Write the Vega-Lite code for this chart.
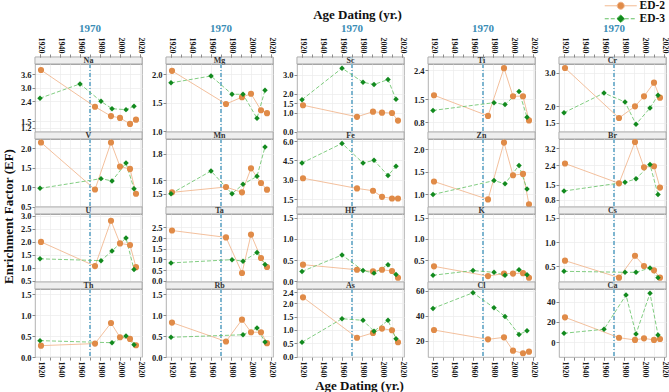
{
  "$schema": "https://vega.github.io/schema/vega-lite/v6.json",
  "padding": {"left": 1, "top": 0, "right": 0, "bottom": 0},
  "data": {"values": [
    {"element":"Na","series":"ED-2","year":1921,"ef":3.79},{"element":"Na","series":"ED-2","year":1975,"ef":2.15},{"element":"Na","series":"ED-2","year":1991,"ef":1.73},{"element":"Na","series":"ED-2","year":2000,"ef":1.65},{"element":"Na","series":"ED-2","year":2010,"ef":1.38},{"element":"Na","series":"ED-2","year":2016,"ef":1.57},
    {"element":"Na","series":"ED-3","year":1920,"ef":2.53},{"element":"Na","series":"ED-3","year":1960,"ef":3.17},{"element":"Na","series":"ED-3","year":1981,"ef":2.39},{"element":"Na","series":"ED-3","year":1992,"ef":2.06},{"element":"Na","series":"ED-3","year":2006,"ef":2.02},{"element":"Na","series":"ED-3","year":2014,"ef":2.17},
    {"element":"Mg","series":"ED-2","year":1921,"ef":2.06},{"element":"Mg","series":"ED-2","year":1975,"ef":1.48},{"element":"Mg","series":"ED-2","year":1991,"ef":1.60},{"element":"Mg","series":"ED-2","year":2000,"ef":1.66},{"element":"Mg","series":"ED-2","year":2010,"ef":1.37},{"element":"Mg","series":"ED-2","year":2016,"ef":1.32},
    {"element":"Mg","series":"ED-3","year":1920,"ef":1.85},{"element":"Mg","series":"ED-3","year":1960,"ef":1.97},{"element":"Mg","series":"ED-3","year":1981,"ef":1.65},{"element":"Mg","series":"ED-3","year":1992,"ef":1.65},{"element":"Mg","series":"ED-3","year":2006,"ef":1.23},{"element":"Mg","series":"ED-3","year":2014,"ef":1.72},
    {"element":"Sc","series":"ED-2","year":1921,"ef":1.39},{"element":"Sc","series":"ED-2","year":1975,"ef":0.78},{"element":"Sc","series":"ED-2","year":1991,"ef":1.05},{"element":"Sc","series":"ED-2","year":2000,"ef":1.00},{"element":"Sc","series":"ED-2","year":2010,"ef":0.98},{"element":"Sc","series":"ED-2","year":2016,"ef":0.58},
    {"element":"Sc","series":"ED-3","year":1920,"ef":1.68},{"element":"Sc","series":"ED-3","year":1960,"ef":3.34},{"element":"Sc","series":"ED-3","year":1981,"ef":2.60},{"element":"Sc","series":"ED-3","year":1992,"ef":2.48},{"element":"Sc","series":"ED-3","year":2006,"ef":2.74},{"element":"Sc","series":"ED-3","year":2014,"ef":1.70},
    {"element":"Ti","series":"ED-2","year":1921,"ef":1.63},{"element":"Ti","series":"ED-2","year":1975,"ef":0.99},{"element":"Ti","series":"ED-2","year":1991,"ef":2.47},{"element":"Ti","series":"ED-2","year":2000,"ef":1.60},{"element":"Ti","series":"ED-2","year":2010,"ef":1.60},{"element":"Ti","series":"ED-2","year":2016,"ef":0.85},
    {"element":"Ti","series":"ED-3","year":1920,"ef":1.16},{"element":"Ti","series":"ED-3","year":1981,"ef":1.40},{"element":"Ti","series":"ED-3","year":1992,"ef":1.34},{"element":"Ti","series":"ED-3","year":2006,"ef":1.75},{"element":"Ti","series":"ED-3","year":2014,"ef":0.95},
    {"element":"Cr","series":"ED-2","year":1921,"ef":3.14},{"element":"Cr","series":"ED-2","year":1975,"ef":1.64},{"element":"Cr","series":"ED-2","year":1991,"ef":1.99},{"element":"Cr","series":"ED-2","year":2000,"ef":2.29},{"element":"Cr","series":"ED-2","year":2010,"ef":2.70},{"element":"Cr","series":"ED-2","year":2016,"ef":2.25},
    {"element":"Cr","series":"ED-3","year":1920,"ef":1.80},{"element":"Cr","series":"ED-3","year":1960,"ef":2.39},{"element":"Cr","series":"ED-3","year":1981,"ef":2.12},{"element":"Cr","series":"ED-3","year":1992,"ef":1.45},{"element":"Cr","series":"ED-3","year":2006,"ef":1.94},{"element":"Cr","series":"ED-3","year":2014,"ef":2.32},
    {"element":"V","series":"ED-2","year":1921,"ef":2.15},{"element":"V","series":"ED-2","year":1975,"ef":0.94},{"element":"V","series":"ED-2","year":1991,"ef":2.15},{"element":"V","series":"ED-2","year":2000,"ef":1.53},{"element":"V","series":"ED-2","year":2010,"ef":1.47},{"element":"V","series":"ED-2","year":2016,"ef":0.83},
    {"element":"V","series":"ED-3","year":1920,"ef":0.97},{"element":"V","series":"ED-3","year":1981,"ef":1.22},{"element":"V","series":"ED-3","year":1992,"ef":1.16},{"element":"V","series":"ED-3","year":2006,"ef":1.62},{"element":"V","series":"ED-3","year":2014,"ef":0.96},
    {"element":"Mn","series":"ED-2","year":1921,"ef":1.51},{"element":"Mn","series":"ED-2","year":1975,"ef":1.55},{"element":"Mn","series":"ED-2","year":1991,"ef":1.51},{"element":"Mn","series":"ED-2","year":2000,"ef":1.69},{"element":"Mn","series":"ED-2","year":2010,"ef":1.58},{"element":"Mn","series":"ED-2","year":2016,"ef":1.53},
    {"element":"Mn","series":"ED-3","year":1920,"ef":1.50},{"element":"Mn","series":"ED-3","year":1960,"ef":1.67},{"element":"Mn","series":"ED-3","year":1981,"ef":1.50},{"element":"Mn","series":"ED-3","year":1992,"ef":1.57},{"element":"Mn","series":"ED-3","year":2006,"ef":1.63},{"element":"Mn","series":"ED-3","year":2014,"ef":1.85},
    {"element":"Fe","series":"ED-2","year":1921,"ef":3.12},{"element":"Fe","series":"ED-2","year":1975,"ef":2.33},{"element":"Fe","series":"ED-2","year":1991,"ef":2.15},{"element":"Fe","series":"ED-2","year":2000,"ef":1.68},{"element":"Fe","series":"ED-2","year":2010,"ef":1.55},{"element":"Fe","series":"ED-2","year":2016,"ef":1.55},
    {"element":"Fe","series":"ED-3","year":1920,"ef":4.30},{"element":"Fe","series":"ED-3","year":1960,"ef":5.82},{"element":"Fe","series":"ED-3","year":1981,"ef":4.30},{"element":"Fe","series":"ED-3","year":1992,"ef":4.51},{"element":"Fe","series":"ED-3","year":2006,"ef":3.33},{"element":"Fe","series":"ED-3","year":2014,"ef":4.04},
    {"element":"Zn","series":"ED-2","year":1921,"ef":1.28},{"element":"Zn","series":"ED-2","year":1975,"ef":0.88},{"element":"Zn","series":"ED-2","year":1991,"ef":2.15},{"element":"Zn","series":"ED-2","year":2000,"ef":1.42},{"element":"Zn","series":"ED-2","year":2010,"ef":1.45},{"element":"Zn","series":"ED-2","year":2016,"ef":0.77},
    {"element":"Zn","series":"ED-3","year":1920,"ef":0.99},{"element":"Zn","series":"ED-3","year":1981,"ef":1.30},{"element":"Zn","series":"ED-3","year":1992,"ef":1.23},{"element":"Zn","series":"ED-3","year":2006,"ef":1.64},{"element":"Zn","series":"ED-3","year":2014,"ef":1.11},
    {"element":"Br","series":"ED-2","year":1921,"ef":2.49},{"element":"Br","series":"ED-2","year":1975,"ef":1.56},{"element":"Br","series":"ED-2","year":1991,"ef":3.50},{"element":"Br","series":"ED-2","year":2000,"ef":2.31},{"element":"Br","series":"ED-2","year":2010,"ef":2.36},{"element":"Br","series":"ED-2","year":2016,"ef":1.36},
    {"element":"Br","series":"ED-3","year":1920,"ef":1.20},{"element":"Br","series":"ED-3","year":1981,"ef":1.61},{"element":"Br","series":"ED-3","year":1992,"ef":1.77},{"element":"Br","series":"ED-3","year":2006,"ef":2.44},{"element":"Br","series":"ED-3","year":2014,"ef":1.04},
    {"element":"U","series":"ED-2","year":1921,"ef":2.00},{"element":"U","series":"ED-2","year":1975,"ef":1.07},{"element":"U","series":"ED-2","year":1991,"ef":2.81},{"element":"U","series":"ED-2","year":2000,"ef":1.94},{"element":"U","series":"ED-2","year":2010,"ef":1.88},{"element":"U","series":"ED-2","year":2016,"ef":1.03},
    {"element":"U","series":"ED-3","year":1920,"ef":1.35},{"element":"U","series":"ED-3","year":1981,"ef":1.28},{"element":"U","series":"ED-3","year":1992,"ef":1.65},{"element":"U","series":"ED-3","year":2006,"ef":2.15},{"element":"U","series":"ED-3","year":2014,"ef":0.94},
    {"element":"Ta","series":"ED-2","year":1921,"ef":2.35},{"element":"Ta","series":"ED-2","year":1975,"ef":2.03},{"element":"Ta","series":"ED-2","year":1991,"ef":0.37},{"element":"Ta","series":"ED-2","year":2000,"ef":2.16},{"element":"Ta","series":"ED-2","year":2010,"ef":1.07},{"element":"Ta","series":"ED-2","year":2016,"ef":0.65},
    {"element":"Ta","series":"ED-3","year":1920,"ef":0.84},{"element":"Ta","series":"ED-3","year":1981,"ef":0.99},{"element":"Ta","series":"ED-3","year":1992,"ef":0.92},{"element":"Ta","series":"ED-3","year":2006,"ef":1.32},{"element":"Ta","series":"ED-3","year":2014,"ef":0.77},
    {"element":"HF","series":"ED-2","year":1921,"ef":0.39},{"element":"HF","series":"ED-2","year":1975,"ef":0.27},{"element":"HF","series":"ED-2","year":1991,"ef":0.23},{"element":"HF","series":"ED-2","year":2000,"ef":0.27},{"element":"HF","series":"ED-2","year":2010,"ef":0.24},{"element":"HF","series":"ED-2","year":2016,"ef":0.08},
    {"element":"HF","series":"ED-3","year":1920,"ef":0.23},{"element":"HF","series":"ED-3","year":1960,"ef":0.62},{"element":"HF","series":"ED-3","year":1981,"ef":0.25},{"element":"HF","series":"ED-3","year":1992,"ef":0.19},{"element":"HF","series":"ED-3","year":2006,"ef":0.39},{"element":"HF","series":"ED-3","year":2014,"ef":0.16},
    {"element":"K","series":"ED-2","year":1921,"ef":0.35},{"element":"K","series":"ED-2","year":1975,"ef":0.12},{"element":"K","series":"ED-2","year":1991,"ef":0.18},{"element":"K","series":"ED-2","year":2000,"ef":0.18},{"element":"K","series":"ED-2","year":2010,"ef":0.19},{"element":"K","series":"ED-2","year":2016,"ef":0.08},
    {"element":"K","series":"ED-3","year":1920,"ef":0.14},{"element":"K","series":"ED-3","year":1960,"ef":0.25},{"element":"K","series":"ED-3","year":1981,"ef":0.21},{"element":"K","series":"ED-3","year":1992,"ef":0.14},{"element":"K","series":"ED-3","year":2006,"ef":0.27},{"element":"K","series":"ED-3","year":2014,"ef":0.15},
    {"element":"Cs","series":"ED-2","year":1921,"ef":0.62},{"element":"Cs","series":"ED-2","year":1975,"ef":0.27},{"element":"Cs","series":"ED-2","year":1991,"ef":0.72},{"element":"Cs","series":"ED-2","year":2000,"ef":0.51},{"element":"Cs","series":"ED-2","year":2010,"ef":0.42},{"element":"Cs","series":"ED-2","year":2016,"ef":0.27},
    {"element":"Cs","series":"ED-3","year":1920,"ef":0.40},{"element":"Cs","series":"ED-3","year":1981,"ef":0.38},{"element":"Cs","series":"ED-3","year":1992,"ef":0.38},{"element":"Cs","series":"ED-3","year":2006,"ef":0.47},{"element":"Cs","series":"ED-3","year":2014,"ef":0.27},
    {"element":"Th","series":"ED-2","year":1921,"ef":0.27},{"element":"Th","series":"ED-2","year":1975,"ef":0.32},{"element":"Th","series":"ED-2","year":1991,"ef":0.81},{"element":"Th","series":"ED-2","year":2000,"ef":0.47},{"element":"Th","series":"ED-2","year":2010,"ef":0.43},{"element":"Th","series":"ED-2","year":2016,"ef":0.28},
    {"element":"Th","series":"ED-3","year":1920,"ef":0.39},{"element":"Th","series":"ED-3","year":1992,"ef":0.34},{"element":"Th","series":"ED-3","year":2006,"ef":0.50},{"element":"Th","series":"ED-3","year":2014,"ef":0.29},
    {"element":"Rb","series":"ED-2","year":1921,"ef":0.82},{"element":"Rb","series":"ED-2","year":1975,"ef":0.37},{"element":"Rb","series":"ED-2","year":1991,"ef":0.89},{"element":"Rb","series":"ED-2","year":2000,"ef":0.59},{"element":"Rb","series":"ED-2","year":2010,"ef":0.59},{"element":"Rb","series":"ED-2","year":2016,"ef":0.33},
    {"element":"Rb","series":"ED-3","year":1920,"ef":0.47},{"element":"Rb","series":"ED-3","year":1992,"ef":0.53},{"element":"Rb","series":"ED-3","year":2006,"ef":0.69},{"element":"Rb","series":"ED-3","year":2014,"ef":0.36},
    {"element":"As","series":"ED-2","year":1921,"ef":2.22},{"element":"As","series":"ED-2","year":1975,"ef":0.71},{"element":"As","series":"ED-2","year":1991,"ef":0.89},{"element":"As","series":"ED-2","year":2000,"ef":1.05},{"element":"As","series":"ED-2","year":2010,"ef":0.99},{"element":"As","series":"ED-2","year":2016,"ef":0.54},
    {"element":"As","series":"ED-3","year":1920,"ef":0.54},{"element":"As","series":"ED-3","year":1960,"ef":1.42},{"element":"As","series":"ED-3","year":1981,"ef":1.36},{"element":"As","series":"ED-3","year":1992,"ef":0.95},{"element":"As","series":"ED-3","year":2006,"ef":1.36},{"element":"As","series":"ED-3","year":2014,"ef":0.67},
    {"element":"Cl","series":"ED-2","year":1921,"ef":28.6},{"element":"Cl","series":"ED-2","year":1975,"ef":21.1},{"element":"Cl","series":"ED-2","year":1991,"ef":22.7},{"element":"Cl","series":"ED-2","year":2000,"ef":12.0},{"element":"Cl","series":"ED-2","year":2010,"ef":9.9},{"element":"Cl","series":"ED-2","year":2016,"ef":11.2},
    {"element":"Cl","series":"ED-3","year":1920,"ef":46.0},{"element":"Cl","series":"ED-3","year":1960,"ef":58.6},{"element":"Cl","series":"ED-3","year":1981,"ef":46.5},{"element":"Cl","series":"ED-3","year":1992,"ef":39.5},{"element":"Cl","series":"ED-3","year":2006,"ef":25.0},{"element":"Cl","series":"ED-3","year":2014,"ef":28.0},
    {"element":"Ca","series":"ED-2","year":1921,"ef":24.6},{"element":"Ca","series":"ED-2","year":1975,"ef":4.5},{"element":"Ca","series":"ED-2","year":1991,"ef":2.3},{"element":"Ca","series":"ED-2","year":2000,"ef":3.9},{"element":"Ca","series":"ED-2","year":2010,"ef":2.3},{"element":"Ca","series":"ED-2","year":2016,"ef":3.2},
    {"element":"Ca","series":"ED-3","year":1920,"ef":8.9},{"element":"Ca","series":"ED-3","year":1960,"ef":12.8},{"element":"Ca","series":"ED-3","year":1982,"ef":46.6},{"element":"Ca","series":"ED-3","year":1992,"ef":8.2},{"element":"Ca","series":"ED-3","year":2006,"ef":48.3},{"element":"Ca","series":"ED-3","year":2014,"ef":7.2}
  ]},
  "columns": 5,
  "spacing": {"row": 0, "column": 24},
  "bounds": "flush",
  "concat": [
    {"width":107,"height":7,"data":{"values":[{"element":"Na"}]},"layer":[
      {"mark":{"type":"rect","fill":"#eeeeee","stroke":"#a6a6a6","strokeWidth":0.8},"encoding":{}},
      {"mark":{"type":"rule","color":"#7db5cf","strokeWidth":0.8,"strokeDash":[4,2,1,2]},"encoding":{"x":{"datum":1970,"type":"quantitative","scale":{"domain":[1915,2022],"nice":false,"zero":false},"axis":null}}},
      {"mark":{"type":"text","text":"1970","dy":-32,"fontSize":11,"fontWeight":"bold","font":"Liberation Serif","color":"#3b8cb5","baseline":"middle"},"encoding":{"x":{"datum":1970,"type":"quantitative","axis":null}}},
      {"mark":{"type":"text","fontSize":8,"fontWeight":"bold","color":"#333333","font":"Liberation Serif","baseline":"middle"},"encoding":{"text":{"field":"element","type":"nominal"}}}]},
    {"width":107,"height":7,"data":{"values":[{"element":"Mg"}]},"layer":[
      {"mark":{"type":"rect","fill":"#eeeeee","stroke":"#a6a6a6","strokeWidth":0.8},"encoding":{}},
      {"mark":{"type":"rule","color":"#7db5cf","strokeWidth":0.8,"strokeDash":[4,2,1,2]},"encoding":{"x":{"datum":1970,"type":"quantitative","scale":{"domain":[1915,2022],"nice":false,"zero":false},"axis":null}}},
      {"mark":{"type":"text","text":"1970","dy":-32,"fontSize":11,"fontWeight":"bold","font":"Liberation Serif","color":"#3b8cb5","baseline":"middle"},"encoding":{"x":{"datum":1970,"type":"quantitative","axis":null}}},
      {"mark":{"type":"text","fontSize":8,"fontWeight":"bold","color":"#333333","font":"Liberation Serif","baseline":"middle"},"encoding":{"text":{"field":"element","type":"nominal"}}}]},
    {"width":107,"height":7,"data":{"values":[{"element":"Sc"}]},"layer":[
      {"mark":{"type":"rect","fill":"#eeeeee","stroke":"#a6a6a6","strokeWidth":0.8},"encoding":{}},
      {"mark":{"type":"rule","color":"#7db5cf","strokeWidth":0.8,"strokeDash":[4,2,1,2]},"encoding":{"x":{"datum":1970,"type":"quantitative","scale":{"domain":[1915,2022],"nice":false,"zero":false},"axis":null}}},
      {"mark":{"type":"text","text":"1970","dy":-32,"fontSize":11,"fontWeight":"bold","font":"Liberation Serif","color":"#3b8cb5","baseline":"middle"},"encoding":{"x":{"datum":1970,"type":"quantitative","axis":null}}},
      {"mark":{"type":"text","fontSize":8,"fontWeight":"bold","color":"#333333","font":"Liberation Serif","baseline":"middle"},"encoding":{"text":{"field":"element","type":"nominal"}}}]},
    {"width":107,"height":7,"data":{"values":[{"element":"Ti"}]},"layer":[
      {"mark":{"type":"rect","fill":"#eeeeee","stroke":"#a6a6a6","strokeWidth":0.8},"encoding":{}},
      {"mark":{"type":"rule","color":"#7db5cf","strokeWidth":0.8,"strokeDash":[4,2,1,2]},"encoding":{"x":{"datum":1970,"type":"quantitative","scale":{"domain":[1915,2022],"nice":false,"zero":false},"axis":null}}},
      {"mark":{"type":"text","text":"1970","dy":-32,"fontSize":11,"fontWeight":"bold","font":"Liberation Serif","color":"#3b8cb5","baseline":"middle"},"encoding":{"x":{"datum":1970,"type":"quantitative","axis":null}}},
      {"mark":{"type":"text","fontSize":8,"fontWeight":"bold","color":"#333333","font":"Liberation Serif","baseline":"middle"},"encoding":{"text":{"field":"element","type":"nominal"}}}]},
    {"width":107,"height":7,"data":{"values":[{"element":"Cr"}]},"layer":[
      {"mark":{"type":"rect","fill":"#eeeeee","stroke":"#a6a6a6","strokeWidth":0.8},"encoding":{}},
      {"mark":{"type":"rule","color":"#7db5cf","strokeWidth":0.8,"strokeDash":[4,2,1,2]},"encoding":{"x":{"datum":1970,"type":"quantitative","scale":{"domain":[1915,2022],"nice":false,"zero":false},"axis":null}}},
      {"mark":{"type":"text","text":"1970","dy":-32,"fontSize":11,"fontWeight":"bold","font":"Liberation Serif","color":"#3b8cb5","baseline":"middle"},"encoding":{"x":{"datum":1970,"type":"quantitative","axis":null}}},
      {"mark":{"type":"text","fontSize":8,"fontWeight":"bold","color":"#333333","font":"Liberation Serif","baseline":"middle"},"encoding":{"text":{"field":"element","type":"nominal"}}}]},

    {"width":107,"height":68,"transform":[{"filter":{"field":"element","equal":"Na"}}],"resolve":{"axis":{"x":"independent","y":"independent"}},"layer":[
      {"mark":{"type":"rule","color":"#7db5cf","strokeWidth":0.8,"strokeDash":[4,2,1,2]},"encoding":{"x":{"datum":1970,"type":"quantitative","axis":{"orient":"top","offset":7,"values":[1920,1930,1940,1950,1960,1970,1980,1990,2000,2010,2020],"labels":false,"ticks":true,"grid":false,"domain":false,"title":null}}}},
      {"transform":[{"filter":{"field":"series","equal":"ED-2"}}],"mark":{"type":"line","color":"#f0b084","strokeWidth":0.8},"encoding":{"x":{"field":"year","type":"quantitative","scale":{"domain":[1915,2022],"nice":false,"zero":false},"axis":{"orient":"bottom","values":[1920,1930,1940,1950,1960,1970,1980,1990,2000,2010,2020],"grid":true,"labels":false,"ticks":false,"domain":false,"title":null}},"y":{"field":"ef","type":"quantitative","scale":{"domain":[1.02,4.06],"nice":false,"zero":false},"axis":{"orient":"left","values":[1.2,2.4],"format":".1f","grid":true,"title":null}}}},
      {"transform":[{"filter":{"field":"series","equal":"ED-3"}}],"mark":{"type":"line","color":"#62c062","strokeWidth":0.8,"strokeDash":[4,2]},"encoding":{"x":{"field":"year","type":"quantitative","axis":{"orient":"top","offset":7,"values":[1920,1940],"format":"d","labelAngle":90,"labelAlign":"right","labelBaseline":"middle","grid":false,"domain":false,"title":null}},"y":{"field":"ef","type":"quantitative","axis":{"orient":"left","values":[1.5,3.0],"format":".1f","grid":true,"title":null}}}},
      {"transform":[{"filter":{"field":"series","equal":"ED-2"}}],"mark":{"type":"point","filled":true,"opacity":1,"color":"#e08b48","shape":"circle","size":38},"encoding":{"x":{"field":"year","type":"quantitative","axis":{"orient":"top","offset":7,"values":[1960,1980],"format":"d","labelAngle":90,"labelAlign":"right","labelBaseline":"middle","grid":false,"domain":false,"title":null}},"y":{"field":"ef","type":"quantitative","axis":{"orient":"left","values":[3.6],"format":".1f","grid":true,"title":null}}}},
      {"transform":[{"filter":{"field":"series","equal":"ED-3"}}],"mark":{"type":"point","filled":true,"opacity":1,"color":"#128a1e","shape":"diamond","size":30},"encoding":{"x":{"field":"year","type":"quantitative","axis":{"orient":"top","offset":7,"values":[2000,2020],"format":"d","labelAngle":90,"labelAlign":"right","labelBaseline":"middle","grid":false,"domain":false,"title":null}},"y":{"field":"ef","type":"quantitative","axis":null}}},
      {"transform":[{"filter":"datum.year < 0"}],"mark":{"type":"point","filled":true,"opacity":1,"strokeWidth":1},"encoding":{
        "color":{"field":"series","type":"nominal","scale":{"domain":["ED-2","ED-3"],"range":["#e08b48","#128a1e"]},"legend":{"title":null,"orient":"none","legendX":580,"legendY":-57,"padding":0,"rowPadding":0,"symbolSize":100,"symbolStrokeWidth":1,"labelFont":"Liberation Serif","labelFontWeight":"bold","labelFontSize":11.5,"labelColor":"#111111","labelOffset":13}},
        "shape":{"field":"series","type":"nominal","scale":{"domain":["ED-2","ED-3"],"range":["M-3.2,0H-0.7M0.7,0H3.2M0.7,0A0.7,0.7,0,1,1,-0.7,0A0.7,0.7,0,1,1,0.7,0Z","M-3.2,0H-0.8M0.8,0H3.2M0,-0.8L0.8,0L0,0.8L-0.8,0Z"]},"legend":{"title":null,"orient":"none","legendX":580,"legendY":-57,"padding":0,"rowPadding":0,"symbolSize":100,"symbolStrokeWidth":1,"labelFont":"Liberation Serif","labelFontWeight":"bold","labelFontSize":11.5,"labelColor":"#111111","labelOffset":13}},
        "stroke":{"field":"series","type":"nominal","scale":{"domain":["ED-2","ED-3"],"range":["#f0b084","#62c062"]},"legend":{"title":null,"orient":"none","legendX":580,"legendY":-57,"padding":0,"rowPadding":0,"symbolSize":100,"symbolStrokeWidth":1,"labelFont":"Liberation Serif","labelFontWeight":"bold","labelFontSize":11.5,"labelColor":"#111111","labelOffset":13}},
        "strokeDash":{"field":"series","type":"nominal","scale":{"domain":["ED-2","ED-3"],"range":[[1,0],[4,2]]},"legend":{"title":null,"orient":"none","legendX":580,"legendY":-57,"padding":0,"rowPadding":0,"symbolSize":100,"symbolStrokeWidth":1,"labelFont":"Liberation Serif","labelFontWeight":"bold","labelFontSize":11.5,"labelColor":"#111111","labelOffset":13}}}}]},
    {"width":107,"height":68,"transform":[{"filter":{"field":"element","equal":"Mg"}}],"resolve":{"axis":{"x":"independent","y":"independent"}},"layer":[
      {"mark":{"type":"rule","color":"#7db5cf","strokeWidth":0.8,"strokeDash":[4,2,1,2]},"encoding":{"x":{"datum":1970,"type":"quantitative","axis":{"orient":"top","offset":7,"values":[1920,1930,1940,1950,1960,1970,1980,1990,2000,2010,2020],"labels":false,"ticks":true,"grid":false,"domain":false,"title":null}}}},
      {"transform":[{"filter":{"field":"series","equal":"ED-2"}}],"mark":{"type":"line","color":"#f0b084","strokeWidth":0.8},"encoding":{"x":{"field":"year","type":"quantitative","scale":{"domain":[1915,2022],"nice":false,"zero":false},"axis":{"orient":"bottom","values":[1920,1930,1940,1950,1960,1970,1980,1990,2000,2010,2020],"grid":true,"labels":false,"ticks":false,"domain":false,"title":null}},"y":{"field":"ef","type":"quantitative","scale":{"domain":[0.99,2.18],"nice":false,"zero":false},"axis":{"orient":"left","values":[1.0,2.0],"format":".1f","grid":true,"title":null}}}},
      {"transform":[{"filter":{"field":"series","equal":"ED-3"}}],"mark":{"type":"line","color":"#62c062","strokeWidth":0.8,"strokeDash":[4,2]},"encoding":{"x":{"field":"year","type":"quantitative","axis":{"orient":"top","offset":7,"values":[1920,1940],"format":"d","labelAngle":90,"labelAlign":"right","labelBaseline":"middle","grid":false,"domain":false,"title":null}},"y":{"field":"ef","type":"quantitative","axis":{"orient":"left","values":[1.5],"format":".1f","grid":true,"title":null}}}},
      {"transform":[{"filter":{"field":"series","equal":"ED-2"}}],"mark":{"type":"point","filled":true,"opacity":1,"color":"#e08b48","shape":"circle","size":38},"encoding":{"x":{"field":"year","type":"quantitative","axis":{"orient":"top","offset":7,"values":[1960,1980],"format":"d","labelAngle":90,"labelAlign":"right","labelBaseline":"middle","grid":false,"domain":false,"title":null}},"y":{"field":"ef","type":"quantitative","axis":null}}},
      {"transform":[{"filter":{"field":"series","equal":"ED-3"}}],"mark":{"type":"point","filled":true,"opacity":1,"color":"#128a1e","shape":"diamond","size":30},"encoding":{"x":{"field":"year","type":"quantitative","axis":{"orient":"top","offset":7,"values":[2000,2020],"format":"d","labelAngle":90,"labelAlign":"right","labelBaseline":"middle","grid":false,"domain":false,"title":null}},"y":{"field":"ef","type":"quantitative","axis":null}}}]},
    {"width":107,"height":68,"transform":[{"filter":{"field":"element","equal":"Sc"}}],"resolve":{"axis":{"x":"independent","y":"independent"}},"layer":[
      {"mark":{"type":"rule","color":"#7db5cf","strokeWidth":0.8,"strokeDash":[4,2,1,2]},"encoding":{"x":{"datum":1970,"type":"quantitative","axis":{"orient":"top","offset":7,"values":[1920,1930,1940,1950,1960,1970,1980,1990,2000,2010,2020],"labels":false,"ticks":true,"grid":false,"domain":false,"title":"Age Dating (yr.)","titleFontSize":13,"titleX":60,"titleY":-43,"titleAlign":"center","titleBaseline":"middle","titleAngle":0}}}},
      {"transform":[{"filter":{"field":"series","equal":"ED-2"}}],"mark":{"type":"line","color":"#f0b084","strokeWidth":0.8},"encoding":{"x":{"field":"year","type":"quantitative","scale":{"domain":[1915,2022],"nice":false,"zero":false},"axis":{"orient":"bottom","values":[1920,1930,1940,1950,1960,1970,1980,1990,2000,2010,2020],"grid":true,"labels":false,"ticks":false,"domain":false,"title":null}},"y":{"field":"ef","type":"quantitative","scale":{"domain":[-0.02,3.56],"nice":false,"zero":false},"axis":{"orient":"left","values":[0.0,1.5],"format":".1f","grid":true,"title":null}}}},
      {"transform":[{"filter":{"field":"series","equal":"ED-3"}}],"mark":{"type":"line","color":"#62c062","strokeWidth":0.8,"strokeDash":[4,2]},"encoding":{"x":{"field":"year","type":"quantitative","axis":{"orient":"top","offset":7,"values":[1920,1940],"format":"d","labelAngle":90,"labelAlign":"right","labelBaseline":"middle","grid":false,"domain":false,"title":null}},"y":{"field":"ef","type":"quantitative","axis":{"orient":"left","values":[1.0,2.0],"format":".1f","grid":true,"title":null}}}},
      {"transform":[{"filter":{"field":"series","equal":"ED-2"}}],"mark":{"type":"point","filled":true,"opacity":1,"color":"#e08b48","shape":"circle","size":38},"encoding":{"x":{"field":"year","type":"quantitative","axis":{"orient":"top","offset":7,"values":[1960,1980],"format":"d","labelAngle":90,"labelAlign":"right","labelBaseline":"middle","grid":false,"domain":false,"title":null}},"y":{"field":"ef","type":"quantitative","axis":{"orient":"left","values":[3.0],"format":".1f","grid":true,"title":null}}}},
      {"transform":[{"filter":{"field":"series","equal":"ED-3"}}],"mark":{"type":"point","filled":true,"opacity":1,"color":"#128a1e","shape":"diamond","size":30},"encoding":{"x":{"field":"year","type":"quantitative","axis":{"orient":"top","offset":7,"values":[2000,2020],"format":"d","labelAngle":90,"labelAlign":"right","labelBaseline":"middle","grid":false,"domain":false,"title":null}},"y":{"field":"ef","type":"quantitative","axis":null}}}]},
    {"width":107,"height":68,"transform":[{"filter":{"field":"element","equal":"Ti"}}],"resolve":{"axis":{"x":"independent","y":"independent"}},"layer":[
      {"mark":{"type":"rule","color":"#7db5cf","strokeWidth":0.8,"strokeDash":[4,2,1,2]},"encoding":{"x":{"datum":1970,"type":"quantitative","axis":{"orient":"top","offset":7,"values":[1920,1930,1940,1950,1960,1970,1980,1990,2000,2010,2020],"labels":false,"ticks":true,"grid":false,"domain":false,"title":null}}}},
      {"transform":[{"filter":{"field":"series","equal":"ED-2"}}],"mark":{"type":"line","color":"#f0b084","strokeWidth":0.8},"encoding":{"x":{"field":"year","type":"quantitative","scale":{"domain":[1915,2022],"nice":false,"zero":false},"axis":{"orient":"bottom","values":[1920,1930,1940,1950,1960,1970,1980,1990,2000,2010,2020],"grid":true,"labels":false,"ticks":false,"domain":false,"title":null}},"y":{"field":"ef","type":"quantitative","scale":{"domain":[0.49,2.6],"nice":false,"zero":false},"axis":{"orient":"left","values":[0.8,2.4],"format":".1f","grid":true,"title":null}}}},
      {"transform":[{"filter":{"field":"series","equal":"ED-3"}}],"mark":{"type":"line","color":"#62c062","strokeWidth":0.8,"strokeDash":[4,2]},"encoding":{"x":{"field":"year","type":"quantitative","axis":{"orient":"top","offset":7,"values":[1920,1940],"format":"d","labelAngle":90,"labelAlign":"right","labelBaseline":"middle","grid":false,"domain":false,"title":null}},"y":{"field":"ef","type":"quantitative","axis":{"orient":"left","values":[1.5],"format":".1f","grid":true,"title":null}}}},
      {"transform":[{"filter":{"field":"series","equal":"ED-2"}}],"mark":{"type":"point","filled":true,"opacity":1,"color":"#e08b48","shape":"circle","size":38},"encoding":{"x":{"field":"year","type":"quantitative","axis":{"orient":"top","offset":7,"values":[1960,1980],"format":"d","labelAngle":90,"labelAlign":"right","labelBaseline":"middle","grid":false,"domain":false,"title":null}},"y":{"field":"ef","type":"quantitative","axis":null}}},
      {"transform":[{"filter":{"field":"series","equal":"ED-3"}}],"mark":{"type":"point","filled":true,"opacity":1,"color":"#128a1e","shape":"diamond","size":30},"encoding":{"x":{"field":"year","type":"quantitative","axis":{"orient":"top","offset":7,"values":[2000,2020],"format":"d","labelAngle":90,"labelAlign":"right","labelBaseline":"middle","grid":false,"domain":false,"title":null}},"y":{"field":"ef","type":"quantitative","axis":null}}}]},
    {"width":107,"height":68,"transform":[{"filter":{"field":"element","equal":"Cr"}}],"resolve":{"axis":{"x":"independent","y":"independent"}},"layer":[
      {"mark":{"type":"rule","color":"#7db5cf","strokeWidth":0.8,"strokeDash":[4,2,1,2]},"encoding":{"x":{"datum":1970,"type":"quantitative","axis":{"orient":"top","offset":7,"values":[1920,1930,1940,1950,1960,1970,1980,1990,2000,2010,2020],"labels":false,"ticks":true,"grid":false,"domain":false,"title":null}}}},
      {"transform":[{"filter":{"field":"series","equal":"ED-2"}}],"mark":{"type":"line","color":"#f0b084","strokeWidth":0.8},"encoding":{"x":{"field":"year","type":"quantitative","scale":{"domain":[1915,2022],"nice":false,"zero":false},"axis":{"orient":"bottom","values":[1920,1930,1940,1950,1960,1970,1980,1990,2000,2010,2020],"grid":true,"labels":false,"ticks":false,"domain":false,"title":null}},"y":{"field":"ef","type":"quantitative","scale":{"domain":[1.22,3.26],"nice":false,"zero":false},"axis":{"orient":"left","values":[1.5,3.0],"format":".1f","grid":true,"title":null}}}},
      {"transform":[{"filter":{"field":"series","equal":"ED-3"}}],"mark":{"type":"line","color":"#62c062","strokeWidth":0.8,"strokeDash":[4,2]},"encoding":{"x":{"field":"year","type":"quantitative","axis":{"orient":"top","offset":7,"values":[1920,1940],"format":"d","labelAngle":90,"labelAlign":"right","labelBaseline":"middle","grid":false,"domain":false,"title":null}},"y":{"field":"ef","type":"quantitative","axis":{"orient":"left","values":[2.0],"format":".1f","grid":true,"title":null}}}},
      {"transform":[{"filter":{"field":"series","equal":"ED-2"}}],"mark":{"type":"point","filled":true,"opacity":1,"color":"#e08b48","shape":"circle","size":38},"encoding":{"x":{"field":"year","type":"quantitative","axis":{"orient":"top","offset":7,"values":[1960,1980],"format":"d","labelAngle":90,"labelAlign":"right","labelBaseline":"middle","grid":false,"domain":false,"title":null}},"y":{"field":"ef","type":"quantitative","axis":null}}},
      {"transform":[{"filter":{"field":"series","equal":"ED-3"}}],"mark":{"type":"point","filled":true,"opacity":1,"color":"#128a1e","shape":"diamond","size":30},"encoding":{"x":{"field":"year","type":"quantitative","axis":{"orient":"top","offset":7,"values":[2000,2020],"format":"d","labelAngle":90,"labelAlign":"right","labelBaseline":"middle","grid":false,"domain":false,"title":null}},"y":{"field":"ef","type":"quantitative","axis":null}}}]},

    {"width":107,"height":7,"data":{"values":[{"element":"V"}]},"layer":[
      {"mark":{"type":"rect","fill":"#eeeeee","stroke":"#a6a6a6","strokeWidth":0.8},"encoding":{}},
      {"mark":{"type":"rule","color":"#7db5cf","strokeWidth":0.8,"strokeDash":[4,2,1,2]},"encoding":{"x":{"datum":1970,"type":"quantitative","scale":{"domain":[1915,2022],"nice":false,"zero":false},"axis":null}}},
      {"mark":{"type":"text","fontSize":8,"fontWeight":"bold","color":"#333333","font":"Liberation Serif","baseline":"middle"},"encoding":{"text":{"field":"element","type":"nominal"}}}]},
    {"width":107,"height":7,"data":{"values":[{"element":"Mn"}]},"layer":[
      {"mark":{"type":"rect","fill":"#eeeeee","stroke":"#a6a6a6","strokeWidth":0.8},"encoding":{}},
      {"mark":{"type":"rule","color":"#7db5cf","strokeWidth":0.8,"strokeDash":[4,2,1,2]},"encoding":{"x":{"datum":1970,"type":"quantitative","scale":{"domain":[1915,2022],"nice":false,"zero":false},"axis":null}}},
      {"mark":{"type":"text","fontSize":8,"fontWeight":"bold","color":"#333333","font":"Liberation Serif","baseline":"middle"},"encoding":{"text":{"field":"element","type":"nominal"}}}]},
    {"width":107,"height":7,"data":{"values":[{"element":"Fe"}]},"layer":[
      {"mark":{"type":"rect","fill":"#eeeeee","stroke":"#a6a6a6","strokeWidth":0.8},"encoding":{}},
      {"mark":{"type":"rule","color":"#7db5cf","strokeWidth":0.8,"strokeDash":[4,2,1,2]},"encoding":{"x":{"datum":1970,"type":"quantitative","scale":{"domain":[1915,2022],"nice":false,"zero":false},"axis":null}}},
      {"mark":{"type":"text","fontSize":8,"fontWeight":"bold","color":"#333333","font":"Liberation Serif","baseline":"middle"},"encoding":{"text":{"field":"element","type":"nominal"}}}]},
    {"width":107,"height":7,"data":{"values":[{"element":"Zn"}]},"layer":[
      {"mark":{"type":"rect","fill":"#eeeeee","stroke":"#a6a6a6","strokeWidth":0.8},"encoding":{}},
      {"mark":{"type":"rule","color":"#7db5cf","strokeWidth":0.8,"strokeDash":[4,2,1,2]},"encoding":{"x":{"datum":1970,"type":"quantitative","scale":{"domain":[1915,2022],"nice":false,"zero":false},"axis":null}}},
      {"mark":{"type":"text","fontSize":8,"fontWeight":"bold","color":"#333333","font":"Liberation Serif","baseline":"middle"},"encoding":{"text":{"field":"element","type":"nominal"}}}]},
    {"width":107,"height":7,"data":{"values":[{"element":"Br"}]},"layer":[
      {"mark":{"type":"rect","fill":"#eeeeee","stroke":"#a6a6a6","strokeWidth":0.8},"encoding":{}},
      {"mark":{"type":"rule","color":"#7db5cf","strokeWidth":0.8,"strokeDash":[4,2,1,2]},"encoding":{"x":{"datum":1970,"type":"quantitative","scale":{"domain":[1915,2022],"nice":false,"zero":false},"axis":null}}},
      {"mark":{"type":"text","fontSize":8,"fontWeight":"bold","color":"#333333","font":"Liberation Serif","baseline":"middle"},"encoding":{"text":{"field":"element","type":"nominal"}}}]},

    {"width":107,"height":68,"transform":[{"filter":{"field":"element","equal":"V"}}],"resolve":{"axis":{"x":"independent","y":"independent"}},"layer":[
      {"mark":{"type":"rule","color":"#7db5cf","strokeWidth":0.8,"strokeDash":[4,2,1,2]},"encoding":{"x":{"datum":1970,"type":"quantitative","axis":null}}},
      {"transform":[{"filter":{"field":"series","equal":"ED-2"}}],"mark":{"type":"line","color":"#f0b084","strokeWidth":0.8},"encoding":{"x":{"field":"year","type":"quantitative","scale":{"domain":[1915,2022],"nice":false,"zero":false},"axis":{"orient":"bottom","values":[1920,1930,1940,1950,1960,1970,1980,1990,2000,2010,2020],"grid":true,"labels":false,"ticks":false,"domain":false,"title":null}},"y":{"field":"ef","type":"quantitative","scale":{"domain":[0.49,2.24],"nice":false,"zero":false},"axis":{"orient":"left","values":[0.5,1.5],"format":".1f","grid":true,"title":"Enrichment Factor (EF)","titleX":-27,"titleY":77,"titleAlign":"center","titleBaseline":"middle","titleFontSize":13}}}},
      {"transform":[{"filter":{"field":"series","equal":"ED-3"}}],"mark":{"type":"line","color":"#62c062","strokeWidth":0.8,"strokeDash":[4,2]},"encoding":{"x":{"field":"year","type":"quantitative","axis":null},"y":{"field":"ef","type":"quantitative","axis":{"orient":"left","values":[1.0,2.0],"format":".1f","grid":true,"title":null}}}},
      {"transform":[{"filter":{"field":"series","equal":"ED-2"}}],"mark":{"type":"point","filled":true,"opacity":1,"color":"#e08b48","shape":"circle","size":38},"encoding":{"x":{"field":"year","type":"quantitative","axis":null},"y":{"field":"ef","type":"quantitative","axis":null}}},
      {"transform":[{"filter":{"field":"series","equal":"ED-3"}}],"mark":{"type":"point","filled":true,"opacity":1,"color":"#128a1e","shape":"diamond","size":30},"encoding":{"x":{"field":"year","type":"quantitative","axis":null},"y":{"field":"ef","type":"quantitative","axis":null}}}]},
    {"width":107,"height":68,"transform":[{"filter":{"field":"element","equal":"Mn"}}],"resolve":{"axis":{"x":"independent","y":"independent"}},"layer":[
      {"mark":{"type":"rule","color":"#7db5cf","strokeWidth":0.8,"strokeDash":[4,2,1,2]},"encoding":{"x":{"datum":1970,"type":"quantitative","axis":null}}},
      {"transform":[{"filter":{"field":"series","equal":"ED-2"}}],"mark":{"type":"line","color":"#f0b084","strokeWidth":0.8},"encoding":{"x":{"field":"year","type":"quantitative","scale":{"domain":[1915,2022],"nice":false,"zero":false},"axis":{"orient":"bottom","values":[1920,1930,1940,1950,1960,1970,1980,1990,2000,2010,2020],"grid":true,"labels":false,"ticks":false,"domain":false,"title":null}},"y":{"field":"ef","type":"quantitative","scale":{"domain":[1.40,1.91],"nice":false,"zero":false},"axis":{"orient":"left","values":[1.5,1.8],"format":".1f","grid":true,"title":null}}}},
      {"transform":[{"filter":{"field":"series","equal":"ED-3"}}],"mark":{"type":"line","color":"#62c062","strokeWidth":0.8,"strokeDash":[4,2]},"encoding":{"x":{"field":"year","type":"quantitative","axis":null},"y":{"field":"ef","type":"quantitative","axis":{"orient":"left","values":[1.6],"format":".1f","grid":true,"title":null}}}},
      {"transform":[{"filter":{"field":"series","equal":"ED-2"}}],"mark":{"type":"point","filled":true,"opacity":1,"color":"#e08b48","shape":"circle","size":38},"encoding":{"x":{"field":"year","type":"quantitative","axis":null},"y":{"field":"ef","type":"quantitative","axis":null}}},
      {"transform":[{"filter":{"field":"series","equal":"ED-3"}}],"mark":{"type":"point","filled":true,"opacity":1,"color":"#128a1e","shape":"diamond","size":30},"encoding":{"x":{"field":"year","type":"quantitative","axis":null},"y":{"field":"ef","type":"quantitative","axis":null}}}]},
    {"width":107,"height":68,"transform":[{"filter":{"field":"element","equal":"Fe"}}],"resolve":{"axis":{"x":"independent","y":"independent"}},"layer":[
      {"mark":{"type":"rule","color":"#7db5cf","strokeWidth":0.8,"strokeDash":[4,2,1,2]},"encoding":{"x":{"datum":1970,"type":"quantitative","axis":null}}},
      {"transform":[{"filter":{"field":"series","equal":"ED-2"}}],"mark":{"type":"line","color":"#f0b084","strokeWidth":0.8},"encoding":{"x":{"field":"year","type":"quantitative","scale":{"domain":[1915,2022],"nice":false,"zero":false},"axis":{"orient":"bottom","values":[1920,1930,1940,1950,1960,1970,1980,1990,2000,2010,2020],"grid":true,"labels":false,"ticks":false,"domain":false,"title":null}},"y":{"field":"ef","type":"quantitative","scale":{"domain":[0.89,6.16],"nice":false,"zero":false},"axis":{"orient":"left","values":[1.5,4.5],"format":".1f","grid":true,"title":null}}}},
      {"transform":[{"filter":{"field":"series","equal":"ED-3"}}],"mark":{"type":"line","color":"#62c062","strokeWidth":0.8,"strokeDash":[4,2]},"encoding":{"x":{"field":"year","type":"quantitative","axis":null},"y":{"field":"ef","type":"quantitative","axis":{"orient":"left","values":[3.0,6.0],"format":".1f","grid":true,"title":null}}}},
      {"transform":[{"filter":{"field":"series","equal":"ED-2"}}],"mark":{"type":"point","filled":true,"opacity":1,"color":"#e08b48","shape":"circle","size":38},"encoding":{"x":{"field":"year","type":"quantitative","axis":null},"y":{"field":"ef","type":"quantitative","axis":null}}},
      {"transform":[{"filter":{"field":"series","equal":"ED-3"}}],"mark":{"type":"point","filled":true,"opacity":1,"color":"#128a1e","shape":"diamond","size":30},"encoding":{"x":{"field":"year","type":"quantitative","axis":null},"y":{"field":"ef","type":"quantitative","axis":null}}}]},
    {"width":107,"height":68,"transform":[{"filter":{"field":"element","equal":"Zn"}}],"resolve":{"axis":{"x":"independent","y":"independent"}},"layer":[
      {"mark":{"type":"rule","color":"#7db5cf","strokeWidth":0.8,"strokeDash":[4,2,1,2]},"encoding":{"x":{"datum":1970,"type":"quantitative","axis":null}}},
      {"transform":[{"filter":{"field":"series","equal":"ED-2"}}],"mark":{"type":"line","color":"#f0b084","strokeWidth":0.8},"encoding":{"x":{"field":"year","type":"quantitative","scale":{"domain":[1915,2022],"nice":false,"zero":false},"axis":{"orient":"bottom","values":[1920,1930,1940,1950,1960,1970,1980,1990,2000,2010,2020],"grid":true,"labels":false,"ticks":false,"domain":false,"title":null}},"y":{"field":"ef","type":"quantitative","scale":{"domain":[0.71,2.23],"nice":false,"zero":false},"axis":{"orient":"left","values":[1.0,2.0],"format":".1f","grid":true,"title":null}}}},
      {"transform":[{"filter":{"field":"series","equal":"ED-3"}}],"mark":{"type":"line","color":"#62c062","strokeWidth":0.8,"strokeDash":[4,2]},"encoding":{"x":{"field":"year","type":"quantitative","axis":null},"y":{"field":"ef","type":"quantitative","axis":{"orient":"left","values":[1.5],"format":".1f","grid":true,"title":null}}}},
      {"transform":[{"filter":{"field":"series","equal":"ED-2"}}],"mark":{"type":"point","filled":true,"opacity":1,"color":"#e08b48","shape":"circle","size":38},"encoding":{"x":{"field":"year","type":"quantitative","axis":null},"y":{"field":"ef","type":"quantitative","axis":null}}},
      {"transform":[{"filter":{"field":"series","equal":"ED-3"}}],"mark":{"type":"point","filled":true,"opacity":1,"color":"#128a1e","shape":"diamond","size":30},"encoding":{"x":{"field":"year","type":"quantitative","axis":null},"y":{"field":"ef","type":"quantitative","axis":null}}}]},
    {"width":107,"height":68,"transform":[{"filter":{"field":"element","equal":"Br"}}],"resolve":{"axis":{"x":"independent","y":"independent"}},"layer":[
      {"mark":{"type":"rule","color":"#7db5cf","strokeWidth":0.8,"strokeDash":[4,2,1,2]},"encoding":{"x":{"datum":1970,"type":"quantitative","axis":null}}},
      {"transform":[{"filter":{"field":"series","equal":"ED-2"}}],"mark":{"type":"line","color":"#f0b084","strokeWidth":0.8},"encoding":{"x":{"field":"year","type":"quantitative","scale":{"domain":[1915,2022],"nice":false,"zero":false},"axis":{"orient":"bottom","values":[1920,1930,1940,1950,1960,1970,1980,1990,2000,2010,2020],"grid":true,"labels":false,"ticks":false,"domain":false,"title":null}},"y":{"field":"ef","type":"quantitative","scale":{"domain":[0.45,3.64],"nice":false,"zero":false},"axis":{"orient":"left","values":[0.8,2.4],"format":".1f","grid":true,"title":null}}}},
      {"transform":[{"filter":{"field":"series","equal":"ED-3"}}],"mark":{"type":"line","color":"#62c062","strokeWidth":0.8,"strokeDash":[4,2]},"encoding":{"x":{"field":"year","type":"quantitative","axis":null},"y":{"field":"ef","type":"quantitative","axis":{"orient":"left","values":[1.5,3.2],"format":".1f","grid":true,"title":null}}}},
      {"transform":[{"filter":{"field":"series","equal":"ED-2"}}],"mark":{"type":"point","filled":true,"opacity":1,"color":"#e08b48","shape":"circle","size":38},"encoding":{"x":{"field":"year","type":"quantitative","axis":null},"y":{"field":"ef","type":"quantitative","axis":null}}},
      {"transform":[{"filter":{"field":"series","equal":"ED-3"}}],"mark":{"type":"point","filled":true,"opacity":1,"color":"#128a1e","shape":"diamond","size":30},"encoding":{"x":{"field":"year","type":"quantitative","axis":null},"y":{"field":"ef","type":"quantitative","axis":null}}}]},

    {"width":107,"height":7,"data":{"values":[{"element":"U"}]},"layer":[
      {"mark":{"type":"rect","fill":"#eeeeee","stroke":"#a6a6a6","strokeWidth":0.8},"encoding":{}},
      {"mark":{"type":"rule","color":"#7db5cf","strokeWidth":0.8,"strokeDash":[4,2,1,2]},"encoding":{"x":{"datum":1970,"type":"quantitative","scale":{"domain":[1915,2022],"nice":false,"zero":false},"axis":null}}},
      {"mark":{"type":"text","fontSize":8,"fontWeight":"bold","color":"#333333","font":"Liberation Serif","baseline":"middle"},"encoding":{"text":{"field":"element","type":"nominal"}}}]},
    {"width":107,"height":7,"data":{"values":[{"element":"Ta"}]},"layer":[
      {"mark":{"type":"rect","fill":"#eeeeee","stroke":"#a6a6a6","strokeWidth":0.8},"encoding":{}},
      {"mark":{"type":"rule","color":"#7db5cf","strokeWidth":0.8,"strokeDash":[4,2,1,2]},"encoding":{"x":{"datum":1970,"type":"quantitative","scale":{"domain":[1915,2022],"nice":false,"zero":false},"axis":null}}},
      {"mark":{"type":"text","fontSize":8,"fontWeight":"bold","color":"#333333","font":"Liberation Serif","baseline":"middle"},"encoding":{"text":{"field":"element","type":"nominal"}}}]},
    {"width":107,"height":7,"data":{"values":[{"element":"HF"}]},"layer":[
      {"mark":{"type":"rect","fill":"#eeeeee","stroke":"#a6a6a6","strokeWidth":0.8},"encoding":{}},
      {"mark":{"type":"rule","color":"#7db5cf","strokeWidth":0.8,"strokeDash":[4,2,1,2]},"encoding":{"x":{"datum":1970,"type":"quantitative","scale":{"domain":[1915,2022],"nice":false,"zero":false},"axis":null}}},
      {"mark":{"type":"text","fontSize":8,"fontWeight":"bold","color":"#333333","font":"Liberation Serif","baseline":"middle"},"encoding":{"text":{"field":"element","type":"nominal"}}}]},
    {"width":107,"height":7,"data":{"values":[{"element":"K"}]},"layer":[
      {"mark":{"type":"rect","fill":"#eeeeee","stroke":"#a6a6a6","strokeWidth":0.8},"encoding":{}},
      {"mark":{"type":"rule","color":"#7db5cf","strokeWidth":0.8,"strokeDash":[4,2,1,2]},"encoding":{"x":{"datum":1970,"type":"quantitative","scale":{"domain":[1915,2022],"nice":false,"zero":false},"axis":null}}},
      {"mark":{"type":"text","fontSize":8,"fontWeight":"bold","color":"#333333","font":"Liberation Serif","baseline":"middle"},"encoding":{"text":{"field":"element","type":"nominal"}}}]},
    {"width":107,"height":7,"data":{"values":[{"element":"Cs"}]},"layer":[
      {"mark":{"type":"rect","fill":"#eeeeee","stroke":"#a6a6a6","strokeWidth":0.8},"encoding":{}},
      {"mark":{"type":"rule","color":"#7db5cf","strokeWidth":0.8,"strokeDash":[4,2,1,2]},"encoding":{"x":{"datum":1970,"type":"quantitative","scale":{"domain":[1915,2022],"nice":false,"zero":false},"axis":null}}},
      {"mark":{"type":"text","fontSize":8,"fontWeight":"bold","color":"#333333","font":"Liberation Serif","baseline":"middle"},"encoding":{"text":{"field":"element","type":"nominal"}}}]},

    {"width":107,"height":68,"transform":[{"filter":{"field":"element","equal":"U"}}],"resolve":{"axis":{"x":"independent","y":"independent"}},"layer":[
      {"mark":{"type":"rule","color":"#7db5cf","strokeWidth":0.8,"strokeDash":[4,2,1,2]},"encoding":{"x":{"datum":1970,"type":"quantitative","axis":null}}},
      {"transform":[{"filter":{"field":"series","equal":"ED-2"}}],"mark":{"type":"line","color":"#f0b084","strokeWidth":0.8},"encoding":{"x":{"field":"year","type":"quantitative","scale":{"domain":[1915,2022],"nice":false,"zero":false},"axis":{"orient":"bottom","values":[1920,1930,1940,1950,1960,1970,1980,1990,2000,2010,2020],"grid":true,"labels":false,"ticks":false,"domain":false,"title":null}},"y":{"field":"ef","type":"quantitative","scale":{"domain":[0.46,3.07],"nice":false,"zero":false},"axis":{"orient":"left","values":[0.5,2.0],"format":".1f","grid":true,"title":null}}}},
      {"transform":[{"filter":{"field":"series","equal":"ED-3"}}],"mark":{"type":"line","color":"#62c062","strokeWidth":0.8,"strokeDash":[4,2]},"encoding":{"x":{"field":"year","type":"quantitative","axis":null},"y":{"field":"ef","type":"quantitative","axis":{"orient":"left","values":[1.0,2.5],"format":".1f","grid":true,"title":null}}}},
      {"transform":[{"filter":{"field":"series","equal":"ED-2"}}],"mark":{"type":"point","filled":true,"opacity":1,"color":"#e08b48","shape":"circle","size":38},"encoding":{"x":{"field":"year","type":"quantitative","axis":null},"y":{"field":"ef","type":"quantitative","axis":{"orient":"left","values":[1.5,3.0],"format":".1f","grid":true,"title":null}}}},
      {"transform":[{"filter":{"field":"series","equal":"ED-3"}}],"mark":{"type":"point","filled":true,"opacity":1,"color":"#128a1e","shape":"diamond","size":30},"encoding":{"x":{"field":"year","type":"quantitative","axis":null},"y":{"field":"ef","type":"quantitative","axis":null}}}]},
    {"width":107,"height":68,"transform":[{"filter":{"field":"element","equal":"Ta"}}],"resolve":{"axis":{"x":"independent","y":"independent"}},"layer":[
      {"mark":{"type":"rule","color":"#7db5cf","strokeWidth":0.8,"strokeDash":[4,2,1,2]},"encoding":{"x":{"datum":1970,"type":"quantitative","axis":null}}},
      {"transform":[{"filter":{"field":"series","equal":"ED-2"}}],"mark":{"type":"line","color":"#f0b084","strokeWidth":0.8},"encoding":{"x":{"field":"year","type":"quantitative","scale":{"domain":[1915,2022],"nice":false,"zero":false},"axis":{"orient":"bottom","values":[1920,1930,1940,1950,1960,1970,1980,1990,2000,2010,2020],"grid":true,"labels":false,"ticks":false,"domain":false,"title":null}},"y":{"field":"ef","type":"quantitative","scale":{"domain":[-0.05,3.12],"nice":false,"zero":false},"axis":{"orient":"left","values":[0.0,1.5],"format":".1f","grid":true,"title":null}}}},
      {"transform":[{"filter":{"field":"series","equal":"ED-3"}}],"mark":{"type":"line","color":"#62c062","strokeWidth":0.8,"strokeDash":[4,2]},"encoding":{"x":{"field":"year","type":"quantitative","axis":null},"y":{"field":"ef","type":"quantitative","axis":{"orient":"left","values":[0.5,2.0],"format":".1f","grid":true,"title":null}}}},
      {"transform":[{"filter":{"field":"series","equal":"ED-2"}}],"mark":{"type":"point","filled":true,"opacity":1,"color":"#e08b48","shape":"circle","size":38},"encoding":{"x":{"field":"year","type":"quantitative","axis":null},"y":{"field":"ef","type":"quantitative","axis":{"orient":"left","values":[1.0,2.5],"format":".1f","grid":true,"title":null}}}},
      {"transform":[{"filter":{"field":"series","equal":"ED-3"}}],"mark":{"type":"point","filled":true,"opacity":1,"color":"#128a1e","shape":"diamond","size":30},"encoding":{"x":{"field":"year","type":"quantitative","axis":null},"y":{"field":"ef","type":"quantitative","axis":null}}}]},
    {"width":107,"height":68,"transform":[{"filter":{"field":"element","equal":"HF"}}],"resolve":{"axis":{"x":"independent","y":"independent"}},"layer":[
      {"mark":{"type":"rule","color":"#7db5cf","strokeWidth":0.8,"strokeDash":[4,2,1,2]},"encoding":{"x":{"datum":1970,"type":"quantitative","axis":null}}},
      {"transform":[{"filter":{"field":"series","equal":"ED-2"}}],"mark":{"type":"line","color":"#f0b084","strokeWidth":0.8},"encoding":{"x":{"field":"year","type":"quantitative","scale":{"domain":[1915,2022],"nice":false,"zero":false},"axis":{"orient":"bottom","values":[1920,1930,1940,1950,1960,1970,1980,1990,2000,2010,2020],"grid":true,"labels":false,"ticks":false,"domain":false,"title":null}},"y":{"field":"ef","type":"quantitative","scale":{"domain":[-0.02,1.59],"nice":false,"zero":false},"axis":{"orient":"left","values":[0.0,1.0],"format":".1f","grid":true,"title":null}}}},
      {"transform":[{"filter":{"field":"series","equal":"ED-3"}}],"mark":{"type":"line","color":"#62c062","strokeWidth":0.8,"strokeDash":[4,2]},"encoding":{"x":{"field":"year","type":"quantitative","axis":null},"y":{"field":"ef","type":"quantitative","axis":{"orient":"left","values":[0.5,1.5],"format":".1f","grid":true,"title":null}}}},
      {"transform":[{"filter":{"field":"series","equal":"ED-2"}}],"mark":{"type":"point","filled":true,"opacity":1,"color":"#e08b48","shape":"circle","size":38},"encoding":{"x":{"field":"year","type":"quantitative","axis":null},"y":{"field":"ef","type":"quantitative","axis":null}}},
      {"transform":[{"filter":{"field":"series","equal":"ED-3"}}],"mark":{"type":"point","filled":true,"opacity":1,"color":"#128a1e","shape":"diamond","size":30},"encoding":{"x":{"field":"year","type":"quantitative","axis":null},"y":{"field":"ef","type":"quantitative","axis":null}}}]},
    {"width":107,"height":68,"transform":[{"filter":{"field":"element","equal":"K"}}],"resolve":{"axis":{"x":"independent","y":"independent"}},"layer":[
      {"mark":{"type":"rule","color":"#7db5cf","strokeWidth":0.8,"strokeDash":[4,2,1,2]},"encoding":{"x":{"datum":1970,"type":"quantitative","axis":null}}},
      {"transform":[{"filter":{"field":"series","equal":"ED-2"}}],"mark":{"type":"line","color":"#f0b084","strokeWidth":0.8},"encoding":{"x":{"field":"year","type":"quantitative","scale":{"domain":[1915,2022],"nice":false,"zero":false},"axis":{"orient":"bottom","values":[1920,1930,1940,1950,1960,1970,1980,1990,2000,2010,2020],"grid":true,"labels":false,"ticks":false,"domain":false,"title":null}},"y":{"field":"ef","type":"quantitative","scale":{"domain":[-0.02,1.59],"nice":false,"zero":false},"axis":{"orient":"left","values":[0.5,1.5],"format":".1f","grid":true,"title":null}}}},
      {"transform":[{"filter":{"field":"series","equal":"ED-3"}}],"mark":{"type":"line","color":"#62c062","strokeWidth":0.8,"strokeDash":[4,2]},"encoding":{"x":{"field":"year","type":"quantitative","axis":null},"y":{"field":"ef","type":"quantitative","axis":{"orient":"left","values":[1.0],"format":".1f","grid":true,"title":null}}}},
      {"transform":[{"filter":{"field":"series","equal":"ED-2"}}],"mark":{"type":"point","filled":true,"opacity":1,"color":"#e08b48","shape":"circle","size":38},"encoding":{"x":{"field":"year","type":"quantitative","axis":null},"y":{"field":"ef","type":"quantitative","axis":null}}},
      {"transform":[{"filter":{"field":"series","equal":"ED-3"}}],"mark":{"type":"point","filled":true,"opacity":1,"color":"#128a1e","shape":"diamond","size":30},"encoding":{"x":{"field":"year","type":"quantitative","axis":null},"y":{"field":"ef","type":"quantitative","axis":null}}}]},
    {"width":107,"height":68,"transform":[{"filter":{"field":"element","equal":"Cs"}}],"resolve":{"axis":{"x":"independent","y":"independent"}},"layer":[
      {"mark":{"type":"rule","color":"#7db5cf","strokeWidth":0.8,"strokeDash":[4,2,1,2]},"encoding":{"x":{"datum":1970,"type":"quantitative","axis":null}}},
      {"transform":[{"filter":{"field":"series","equal":"ED-2"}}],"mark":{"type":"line","color":"#f0b084","strokeWidth":0.8},"encoding":{"x":{"field":"year","type":"quantitative","scale":{"domain":[1915,2022],"nice":false,"zero":false},"axis":{"orient":"bottom","values":[1920,1930,1940,1950,1960,1970,1980,1990,2000,2010,2020],"grid":true,"labels":false,"ticks":false,"domain":false,"title":null}},"y":{"field":"ef","type":"quantitative","scale":{"domain":[0.18,1.58],"nice":false,"zero":false},"axis":{"orient":"left","values":[0.5,1.5],"format":".1f","grid":true,"title":null}}}},
      {"transform":[{"filter":{"field":"series","equal":"ED-3"}}],"mark":{"type":"line","color":"#62c062","strokeWidth":0.8,"strokeDash":[4,2]},"encoding":{"x":{"field":"year","type":"quantitative","axis":null},"y":{"field":"ef","type":"quantitative","axis":{"orient":"left","values":[1.0],"format":".1f","grid":true,"title":null}}}},
      {"transform":[{"filter":{"field":"series","equal":"ED-2"}}],"mark":{"type":"point","filled":true,"opacity":1,"color":"#e08b48","shape":"circle","size":38},"encoding":{"x":{"field":"year","type":"quantitative","axis":null},"y":{"field":"ef","type":"quantitative","axis":null}}},
      {"transform":[{"filter":{"field":"series","equal":"ED-3"}}],"mark":{"type":"point","filled":true,"opacity":1,"color":"#128a1e","shape":"diamond","size":30},"encoding":{"x":{"field":"year","type":"quantitative","axis":null},"y":{"field":"ef","type":"quantitative","axis":null}}}]},

    {"width":107,"height":7,"data":{"values":[{"element":"Th"}]},"layer":[
      {"mark":{"type":"rect","fill":"#eeeeee","stroke":"#a6a6a6","strokeWidth":0.8},"encoding":{}},
      {"mark":{"type":"rule","color":"#7db5cf","strokeWidth":0.8,"strokeDash":[4,2,1,2]},"encoding":{"x":{"datum":1970,"type":"quantitative","scale":{"domain":[1915,2022],"nice":false,"zero":false},"axis":null}}},
      {"mark":{"type":"text","fontSize":8,"fontWeight":"bold","color":"#333333","font":"Liberation Serif","baseline":"middle"},"encoding":{"text":{"field":"element","type":"nominal"}}}]},
    {"width":107,"height":7,"data":{"values":[{"element":"Rb"}]},"layer":[
      {"mark":{"type":"rect","fill":"#eeeeee","stroke":"#a6a6a6","strokeWidth":0.8},"encoding":{}},
      {"mark":{"type":"rule","color":"#7db5cf","strokeWidth":0.8,"strokeDash":[4,2,1,2]},"encoding":{"x":{"datum":1970,"type":"quantitative","scale":{"domain":[1915,2022],"nice":false,"zero":false},"axis":null}}},
      {"mark":{"type":"text","fontSize":8,"fontWeight":"bold","color":"#333333","font":"Liberation Serif","baseline":"middle"},"encoding":{"text":{"field":"element","type":"nominal"}}}]},
    {"width":107,"height":7,"data":{"values":[{"element":"As"}]},"layer":[
      {"mark":{"type":"rect","fill":"#eeeeee","stroke":"#a6a6a6","strokeWidth":0.8},"encoding":{}},
      {"mark":{"type":"rule","color":"#7db5cf","strokeWidth":0.8,"strokeDash":[4,2,1,2]},"encoding":{"x":{"datum":1970,"type":"quantitative","scale":{"domain":[1915,2022],"nice":false,"zero":false},"axis":null}}},
      {"mark":{"type":"text","fontSize":8,"fontWeight":"bold","color":"#333333","font":"Liberation Serif","baseline":"middle"},"encoding":{"text":{"field":"element","type":"nominal"}}}]},
    {"width":107,"height":7,"data":{"values":[{"element":"Cl"}]},"layer":[
      {"mark":{"type":"rect","fill":"#eeeeee","stroke":"#a6a6a6","strokeWidth":0.8},"encoding":{}},
      {"mark":{"type":"rule","color":"#7db5cf","strokeWidth":0.8,"strokeDash":[4,2,1,2]},"encoding":{"x":{"datum":1970,"type":"quantitative","scale":{"domain":[1915,2022],"nice":false,"zero":false},"axis":null}}},
      {"mark":{"type":"text","fontSize":8,"fontWeight":"bold","color":"#333333","font":"Liberation Serif","baseline":"middle"},"encoding":{"text":{"field":"element","type":"nominal"}}}]},
    {"width":107,"height":7,"data":{"values":[{"element":"Ca"}]},"layer":[
      {"mark":{"type":"rect","fill":"#eeeeee","stroke":"#a6a6a6","strokeWidth":0.8},"encoding":{}},
      {"mark":{"type":"rule","color":"#7db5cf","strokeWidth":0.8,"strokeDash":[4,2,1,2]},"encoding":{"x":{"datum":1970,"type":"quantitative","scale":{"domain":[1915,2022],"nice":false,"zero":false},"axis":null}}},
      {"mark":{"type":"text","fontSize":8,"fontWeight":"bold","color":"#333333","font":"Liberation Serif","baseline":"middle"},"encoding":{"text":{"field":"element","type":"nominal"}}}]},

    {"width":107,"height":68,"transform":[{"filter":{"field":"element","equal":"Th"}}],"resolve":{"axis":{"x":"independent","y":"independent"}},"layer":[
      {"mark":{"type":"rule","color":"#7db5cf","strokeWidth":0.8,"strokeDash":[4,2,1,2]},"encoding":{"x":{"datum":1970,"type":"quantitative","axis":{"orient":"bottom","values":[1920,1930,1940,1950,1960,1970,1980,1990,2000,2010,2020],"labels":false,"ticks":true,"grid":false,"domain":false,"title":null}}}},
      {"transform":[{"filter":{"field":"series","equal":"ED-2"}}],"mark":{"type":"line","color":"#f0b084","strokeWidth":0.8},"encoding":{"x":{"field":"year","type":"quantitative","scale":{"domain":[1915,2022],"nice":false,"zero":false},"axis":{"orient":"bottom","values":[1920,1930,1940,1950,1960,1970,1980,1990,2000,2010,2020],"grid":true,"labels":false,"ticks":false,"domain":false,"title":null}},"y":{"field":"ef","type":"quantitative","scale":{"domain":[0.0,1.62],"nice":false,"zero":false},"axis":{"orient":"left","values":[0.0,1.0],"format":".1f","grid":true,"title":null}}}},
      {"transform":[{"filter":{"field":"series","equal":"ED-3"}}],"mark":{"type":"line","color":"#62c062","strokeWidth":0.8,"strokeDash":[4,2]},"encoding":{"x":{"field":"year","type":"quantitative","axis":{"orient":"bottom","values":[1920,1940],"format":"d","labelAngle":90,"labelAlign":"left","labelBaseline":"middle","grid":false,"domain":false,"title":null}},"y":{"field":"ef","type":"quantitative","axis":{"orient":"left","values":[0.5,1.5],"format":".1f","grid":true,"title":null}}}},
      {"transform":[{"filter":{"field":"series","equal":"ED-2"}}],"mark":{"type":"point","filled":true,"opacity":1,"color":"#e08b48","shape":"circle","size":38},"encoding":{"x":{"field":"year","type":"quantitative","axis":{"orient":"bottom","values":[1960,1980],"format":"d","labelAngle":90,"labelAlign":"left","labelBaseline":"middle","grid":false,"domain":false,"title":null}},"y":{"field":"ef","type":"quantitative","axis":null}}},
      {"transform":[{"filter":{"field":"series","equal":"ED-3"}}],"mark":{"type":"point","filled":true,"opacity":1,"color":"#128a1e","shape":"diamond","size":30},"encoding":{"x":{"field":"year","type":"quantitative","axis":{"orient":"bottom","values":[2000,2020],"format":"d","labelAngle":90,"labelAlign":"left","labelBaseline":"middle","grid":false,"domain":false,"title":null}},"y":{"field":"ef","type":"quantitative","axis":null}}}]},
    {"width":107,"height":68,"transform":[{"filter":{"field":"element","equal":"Rb"}}],"resolve":{"axis":{"x":"independent","y":"independent"}},"layer":[
      {"mark":{"type":"rule","color":"#7db5cf","strokeWidth":0.8,"strokeDash":[4,2,1,2]},"encoding":{"x":{"datum":1970,"type":"quantitative","axis":{"orient":"bottom","values":[1920,1930,1940,1950,1960,1970,1980,1990,2000,2010,2020],"labels":false,"ticks":true,"grid":false,"domain":false,"title":null}}}},
      {"transform":[{"filter":{"field":"series","equal":"ED-2"}}],"mark":{"type":"line","color":"#f0b084","strokeWidth":0.8},"encoding":{"x":{"field":"year","type":"quantitative","scale":{"domain":[1915,2022],"nice":false,"zero":false},"axis":{"orient":"bottom","values":[1920,1930,1940,1950,1960,1970,1980,1990,2000,2010,2020],"grid":true,"labels":false,"ticks":false,"domain":false,"title":null}},"y":{"field":"ef","type":"quantitative","scale":{"domain":[0.0,1.62],"nice":false,"zero":false},"axis":{"orient":"left","values":[0.0,1.0],"format":".1f","grid":true,"title":null}}}},
      {"transform":[{"filter":{"field":"series","equal":"ED-3"}}],"mark":{"type":"line","color":"#62c062","strokeWidth":0.8,"strokeDash":[4,2]},"encoding":{"x":{"field":"year","type":"quantitative","axis":{"orient":"bottom","values":[1920,1940],"format":"d","labelAngle":90,"labelAlign":"left","labelBaseline":"middle","grid":false,"domain":false,"title":null}},"y":{"field":"ef","type":"quantitative","axis":{"orient":"left","values":[0.5,1.5],"format":".1f","grid":true,"title":null}}}},
      {"transform":[{"filter":{"field":"series","equal":"ED-2"}}],"mark":{"type":"point","filled":true,"opacity":1,"color":"#e08b48","shape":"circle","size":38},"encoding":{"x":{"field":"year","type":"quantitative","axis":{"orient":"bottom","values":[1960,1980],"format":"d","labelAngle":90,"labelAlign":"left","labelBaseline":"middle","grid":false,"domain":false,"title":null}},"y":{"field":"ef","type":"quantitative","axis":null}}},
      {"transform":[{"filter":{"field":"series","equal":"ED-3"}}],"mark":{"type":"point","filled":true,"opacity":1,"color":"#128a1e","shape":"diamond","size":30},"encoding":{"x":{"field":"year","type":"quantitative","axis":{"orient":"bottom","values":[2000,2020],"format":"d","labelAngle":90,"labelAlign":"left","labelBaseline":"middle","grid":false,"domain":false,"title":null}},"y":{"field":"ef","type":"quantitative","axis":null}}}]},
    {"width":107,"height":68,"transform":[{"filter":{"field":"element","equal":"As"}}],"resolve":{"axis":{"x":"independent","y":"independent"}},"layer":[
      {"mark":{"type":"rule","color":"#7db5cf","strokeWidth":0.8,"strokeDash":[4,2,1,2]},"encoding":{"x":{"datum":1970,"type":"quantitative","axis":{"orient":"bottom","values":[1920,1930,1940,1950,1960,1970,1980,1990,2000,2010,2020],"labels":false,"ticks":true,"grid":false,"domain":false,"title":null}}}},
      {"transform":[{"filter":{"field":"series","equal":"ED-2"}}],"mark":{"type":"line","color":"#f0b084","strokeWidth":0.8},"encoding":{"x":{"field":"year","type":"quantitative","scale":{"domain":[1915,2022],"nice":false,"zero":false},"axis":{"orient":"bottom","values":[1920,1930,1940,1950,1960,1970,1980,1990,2000,2010,2020],"grid":true,"labels":false,"ticks":false,"domain":false,"title":null}},"y":{"field":"ef","type":"quantitative","scale":{"domain":[-0.01,2.53],"nice":false,"zero":false},"axis":{"orient":"left","values":[0.0,1.5],"format":".1f","grid":true,"title":null}}}},
      {"transform":[{"filter":{"field":"series","equal":"ED-3"}}],"mark":{"type":"line","color":"#62c062","strokeWidth":0.8,"strokeDash":[4,2]},"encoding":{"x":{"field":"year","type":"quantitative","axis":{"orient":"bottom","values":[1920,1940],"format":"d","labelAngle":90,"labelAlign":"left","labelBaseline":"middle","grid":false,"domain":false,"title":"Age Dating (yr.)","titleFontSize":13,"titleX":62,"titlePadding":2}},"y":{"field":"ef","type":"quantitative","axis":{"orient":"left","values":[0.5,2.0],"format":".1f","grid":true,"title":null}}}},
      {"transform":[{"filter":{"field":"series","equal":"ED-2"}}],"mark":{"type":"point","filled":true,"opacity":1,"color":"#e08b48","shape":"circle","size":38},"encoding":{"x":{"field":"year","type":"quantitative","axis":{"orient":"bottom","values":[1960,1980],"format":"d","labelAngle":90,"labelAlign":"left","labelBaseline":"middle","grid":false,"domain":false,"title":null}},"y":{"field":"ef","type":"quantitative","axis":{"orient":"left","values":[1.0,2.4],"format":".1f","grid":true,"title":null}}}},
      {"transform":[{"filter":{"field":"series","equal":"ED-3"}}],"mark":{"type":"point","filled":true,"opacity":1,"color":"#128a1e","shape":"diamond","size":30},"encoding":{"x":{"field":"year","type":"quantitative","axis":{"orient":"bottom","values":[2000,2020],"format":"d","labelAngle":90,"labelAlign":"left","labelBaseline":"middle","grid":false,"domain":false,"title":null}},"y":{"field":"ef","type":"quantitative","axis":null}}}]},
    {"width":107,"height":68,"transform":[{"filter":{"field":"element","equal":"Cl"}}],"resolve":{"axis":{"x":"independent","y":"independent"}},"layer":[
      {"mark":{"type":"rule","color":"#7db5cf","strokeWidth":0.8,"strokeDash":[4,2,1,2]},"encoding":{"x":{"datum":1970,"type":"quantitative","axis":{"orient":"bottom","values":[1920,1930,1940,1950,1960,1970,1980,1990,2000,2010,2020],"labels":false,"ticks":true,"grid":false,"domain":false,"title":null}}}},
      {"transform":[{"filter":{"field":"series","equal":"ED-2"}}],"mark":{"type":"line","color":"#f0b084","strokeWidth":0.8},"encoding":{"x":{"field":"year","type":"quantitative","scale":{"domain":[1915,2022],"nice":false,"zero":false},"axis":{"orient":"bottom","values":[1920,1930,1940,1950,1960,1970,1980,1990,2000,2010,2020],"grid":true,"labels":false,"ticks":false,"domain":false,"title":null}},"y":{"field":"ef","type":"quantitative","scale":{"domain":[6.9,61.6],"nice":false,"zero":false},"axis":{"orient":"left","values":[20,60],"format":"d","grid":true,"title":null}}}},
      {"transform":[{"filter":{"field":"series","equal":"ED-3"}}],"mark":{"type":"line","color":"#62c062","strokeWidth":0.8,"strokeDash":[4,2]},"encoding":{"x":{"field":"year","type":"quantitative","axis":{"orient":"bottom","values":[1920,1940],"format":"d","labelAngle":90,"labelAlign":"left","labelBaseline":"middle","grid":false,"domain":false,"title":null}},"y":{"field":"ef","type":"quantitative","axis":{"orient":"left","values":[40],"format":"d","grid":true,"title":null}}}},
      {"transform":[{"filter":{"field":"series","equal":"ED-2"}}],"mark":{"type":"point","filled":true,"opacity":1,"color":"#e08b48","shape":"circle","size":38},"encoding":{"x":{"field":"year","type":"quantitative","axis":{"orient":"bottom","values":[1960,1980],"format":"d","labelAngle":90,"labelAlign":"left","labelBaseline":"middle","grid":false,"domain":false,"title":null}},"y":{"field":"ef","type":"quantitative","axis":null}}},
      {"transform":[{"filter":{"field":"series","equal":"ED-3"}}],"mark":{"type":"point","filled":true,"opacity":1,"color":"#128a1e","shape":"diamond","size":30},"encoding":{"x":{"field":"year","type":"quantitative","axis":{"orient":"bottom","values":[2000,2020],"format":"d","labelAngle":90,"labelAlign":"left","labelBaseline":"middle","grid":false,"domain":false,"title":null}},"y":{"field":"ef","type":"quantitative","axis":null}}}]},
    {"width":107,"height":68,"transform":[{"filter":{"field":"element","equal":"Ca"}}],"resolve":{"axis":{"x":"independent","y":"independent"}},"layer":[
      {"mark":{"type":"rule","color":"#7db5cf","strokeWidth":0.8,"strokeDash":[4,2,1,2]},"encoding":{"x":{"datum":1970,"type":"quantitative","axis":{"orient":"bottom","values":[1920,1930,1940,1950,1960,1970,1980,1990,2000,2010,2020],"labels":false,"ticks":true,"grid":false,"domain":false,"title":null}}}},
      {"transform":[{"filter":{"field":"series","equal":"ED-2"}}],"mark":{"type":"line","color":"#f0b084","strokeWidth":0.8},"encoding":{"x":{"field":"year","type":"quantitative","scale":{"domain":[1915,2022],"nice":false,"zero":false},"axis":{"orient":"bottom","values":[1920,1930,1940,1950,1960,1970,1980,1990,2000,2010,2020],"grid":true,"labels":false,"ticks":false,"domain":false,"title":null}},"y":{"field":"ef","type":"quantitative","scale":{"domain":[-14.5,52.5],"nice":false,"zero":false},"axis":{"orient":"left","values":[0,40],"format":"d","grid":true,"title":null}}}},
      {"transform":[{"filter":{"field":"series","equal":"ED-3"}}],"mark":{"type":"line","color":"#62c062","strokeWidth":0.8,"strokeDash":[4,2]},"encoding":{"x":{"field":"year","type":"quantitative","axis":{"orient":"bottom","values":[1920,1940],"format":"d","labelAngle":90,"labelAlign":"left","labelBaseline":"middle","grid":false,"domain":false,"title":null}},"y":{"field":"ef","type":"quantitative","axis":{"orient":"left","values":[20],"format":"d","grid":true,"title":null}}}},
      {"transform":[{"filter":{"field":"series","equal":"ED-2"}}],"mark":{"type":"point","filled":true,"opacity":1,"color":"#e08b48","shape":"circle","size":38},"encoding":{"x":{"field":"year","type":"quantitative","axis":{"orient":"bottom","values":[1960,1980],"format":"d","labelAngle":90,"labelAlign":"left","labelBaseline":"middle","grid":false,"domain":false,"title":null}},"y":{"field":"ef","type":"quantitative","axis":null}}},
      {"transform":[{"filter":{"field":"series","equal":"ED-3"}}],"mark":{"type":"point","filled":true,"opacity":1,"color":"#128a1e","shape":"diamond","size":30},"encoding":{"x":{"field":"year","type":"quantitative","axis":{"orient":"bottom","values":[2000,2020],"format":"d","labelAngle":90,"labelAlign":"left","labelBaseline":"middle","grid":false,"domain":false,"title":null}},"y":{"field":"ef","type":"quantitative","axis":null}}}]}
  ],
  "config": {
    "font": "Liberation Serif",
    "view": {"stroke": "#9e9e9e", "strokeWidth": 0.8},
    "axis": {"labelFont": "Liberation Serif", "labelFontWeight": "bold", "labelFontSize": 8, "labelColor": "#1a1a1a", "labelOverlap": false, "gridColor": "#ebebeb", "gridWidth": 0.7, "tickColor": "#8a8a8a", "tickSize": 3, "domain": false, "labelPadding": 1, "titleFont": "Liberation Serif", "titleFontWeight": "bold", "titleColor": "#111111"},
    "axisY": {"labelFontSize": 8.5}
  }
}
